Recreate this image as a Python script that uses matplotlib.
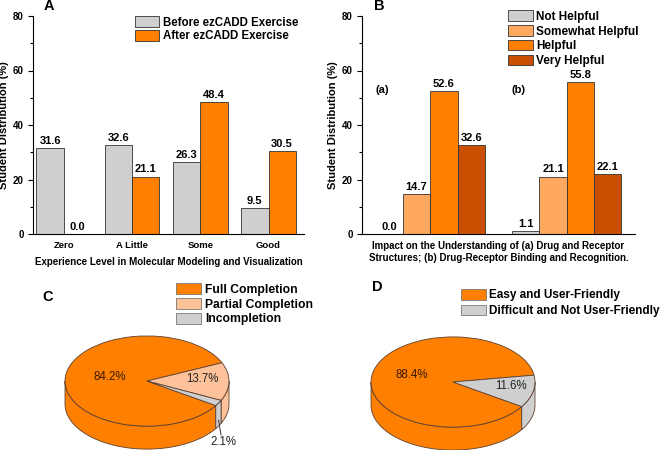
import matplotlib
matplotlib.use("Agg")
import matplotlib.pyplot as plt
import numpy as np
from matplotlib.patches import Patch, Polygon
from matplotlib.transforms import Affine2D

plt.rcParams['font.family'] = ['Liberation Sans', 'DejaVu Sans']

# ---- data ----
exp_levels = ["Zero", "A Little", "Some", "Good"]
before_ez = [31.6, 32.6, 26.3, 9.5]
after_ez = [0.0, 21.1, 48.4, 30.5]

help_groups = ["(a)", "(b)"]
help_labels = ["Not Helpful", "Somewhat Helpful", "Helpful", "Very Helpful"]
not_helpful = [0.0, 1.1]
somewhat_helpful = [14.7, 21.1]
helpful = [52.6, 55.8]
very_helpful = [32.6, 22.1]

completion_labels = ["Full Completion", "Partial Completion", "Incompletion"]
completion_vals = [84.2, 13.7, 2.1]

ease_labels = ["Easy and User-Friendly", "Difficult and Not User-Friendly"]
ease_vals = [88.4, 11.6]

GRAY = '#cfcfcf'
ORANGE = '#ff8000'
LIGHT = '#ffa860'
DARK = '#c85000'
PEACH = '#fdc29a'
EDGE = '#333333'
PIE_EDGE = '#5c4030'

W, H = 662, 450
fig = plt.figure(figsize=(6.62, 4.5), dpi=100)


def px_rect(x0, y0, x1, y1):
    return [x0 / W, 1 - y1 / H, (x1 - x0) / W, (y1 - y0) / H]


def style_bar_axes(ax):
    for s in ['top', 'right']:
        ax.spines[s].set_visible(False)
    for s in ['left', 'bottom']:
        ax.spines[s].set_linewidth(0.8)
    ax.set_ylim(0, 80)
    ax.set_yticks([0, 20, 40, 60, 80])
    ax.set_yticks([10, 30, 50, 70], minor=True)
    ax.tick_params(axis='y', which='major', length=3.6, width=0.8, pad=3,
                   labelsize=7)
    ax.tick_params(axis='y', which='minor', length=2, width=0.8)
    for t in ax.get_yticklabels():
        t.set_fontweight('bold')
    ax.set_ylabel("Student Distribution (%)", fontsize=8, fontweight='bold',
                  labelpad=3)


def bar_labels(ax, rects):
    for r in rects:
        h = r.get_height()
        ax.annotate(f"{h:.1f}", xy=(r.get_x() + r.get_width() / 2, h),
                    xytext=(0, 1.5), textcoords='offset points',
                    ha='center', va='bottom', fontsize=8, fontweight='bold')


# ---- panel A ----
axA = fig.add_axes(px_rect(33, 16, 304, 234))
x = np.arange(len(exp_levels))
w = 0.4
rb = axA.bar(x - w / 2, before_ez, w, color=GRAY, edgecolor=EDGE, linewidth=0.6,
             label="Before ezCADD Exercise")
ra = axA.bar(x + w / 2, after_ez, w, color=ORANGE, edgecolor=EDGE, linewidth=0.6,
             label="After ezCADD Exercise")
bar_labels(axA, rb)
bar_labels(axA, ra)
axA.set_xlim(-0.45, 3.52)
axA.set_xticks(x)
axA.set_xticklabels(exp_levels, fontsize=6.8, fontweight='bold')
axA.tick_params(axis='x', length=0, pad=5)
style_bar_axes(axA)
axA.set_xlabel("Experience Level in Molecular Modeling and Visualization",
               fontsize=7, fontweight='bold', labelpad=5)
axA.legend(loc='upper left', bbox_to_anchor=(135 / W, 1 - 16.5 / H),
           bbox_transform=fig.transFigure, frameon=False, borderpad=0,
           borderaxespad=0, handlelength=2.1, handleheight=1.05,
           handletextpad=0.3, labelspacing=0.1,
           prop={'size': 8.3, 'weight': 'bold'})

# ---- panel B ----
axB = fig.add_axes(px_rect(362, 16, 635, 234))
xg = np.arange(len(help_groups))
wb = 0.2
series_b = [not_helpful, somewhat_helpful, helpful, very_helpful]
colors_b = [GRAY, LIGHT, ORANGE, DARK]
for i, (vals, col, lab) in enumerate(zip(series_b, colors_b, help_labels)):
    rr = axB.bar(xg + (i - 1.5) * wb, vals, wb, color=col, edgecolor=EDGE,
                 linewidth=0.6, label=lab)
    bar_labels(axB, rr)
axB.set_xlim(-0.5, 1.5)
axB.set_xticks([])
style_bar_axes(axB)
for gx, gname in zip(xg, help_groups):
    axB.text(gx - 0.35, 52.8, gname, fontsize=8, fontweight='bold',
             ha='center', va='center')
axB.set_xlabel("Impact on the Understanding of (a) Drug and Receptor\n"
               "Structures; (b) Drug-Receptor Binding and Recognition.",
               fontsize=7, fontweight='bold', labelpad=5, linespacing=1.25)
axB.legend(loc='upper left', bbox_to_anchor=(508 / W, 1 - 10.5 / H),
           bbox_transform=fig.transFigure, frameon=False, borderpad=0,
           borderaxespad=0, handlelength=2.1, handleheight=1.0,
           handletextpad=0.3, labelspacing=0.2,
           prop={'size': 8.5, 'weight': 'bold'})


# ---- pies ----
def pie3d(ax, vals, colors, start, label_r, small_leader=None):
    rx_ry = 0.55
    depth = 0.28
    fr = np.array(vals) / np.sum(vals)
    bounds = start - 360 * np.concatenate([[0], np.cumsum(fr)])
    # side walls of the front half
    for i in range(len(vals)):
        a_hi, a_lo = bounds[i], bounds[i + 1]
        for k in range(-2, 2):
            lo = max(a_lo, -180 + 360 * k)
            hi = min(a_hi, 360 * k)
            if hi > lo:
                t = np.radians(np.linspace(lo, hi, 60))
                top = np.column_stack([np.cos(t), rx_ry * np.sin(t)])
                bot = top[::-1] - [0, depth]
                ax.add_patch(Polygon(np.vstack([top, bot]), closed=True,
                                     facecolor=colors[i], edgecolor=PIE_EDGE,
                                     linewidth=0.6, zorder=1))
    wedges, _ = ax.pie(vals, colors=colors, startangle=start, counterclock=False,
                       radius=1, center=(0, 0),
                       wedgeprops=dict(edgecolor=PIE_EDGE, linewidth=0.6))
    for wd in wedges:
        wd.set_transform(Affine2D().scale(1, rx_ry) + ax.transData)
        wd.set_zorder(2)
    for i, v in enumerate(vals):
        mid = np.radians((bounds[i] + bounds[i + 1]) / 2)
        if small_leader is not None and i == small_leader:
            sx, sy = np.cos(mid), rx_ry * np.sin(mid) - depth * 0.75
            ax.plot([sx, sx + 0.03], [sy, -0.66], color='#333333', lw=0.7,
                    zorder=3)
            ax.text(sx + 0.06, -0.74, f"{v:.1f}%", fontsize=8.3,
                    ha='center', va='center', color='#222222', zorder=3)
        else:
            r = label_r[i]
            ax.text(r * np.cos(mid), r * rx_ry * np.sin(mid) + 0.03,
                    f"{v:.1f}%", fontsize=8.3, ha='center', va='center',
                    color='#3a1a00' if colors[i] == ORANGE else '#222222',
                    zorder=3)


axC = fig.add_axes([0, 0, 331 / W, 200 / H])
pie3d(axC, completion_vals, [ORANGE, PEACH, GRAY], -33, [0.45, 0.68, 0],
      small_leader=2)
axC.set_xlim(-1.793, 2.244)
axC.set_ylim(-0.841, 1.598)
axC.set_aspect('auto')
axC.axis('off')
axC.legend(handles=[Patch(facecolor=c, edgecolor='#777777', linewidth=0.6)
                    for c in [ORANGE, PEACH, GRAY]],
           labels=completion_labels, loc='upper left',
           bbox_to_anchor=(176 / W, 1 - 283 / H), bbox_transform=fig.transFigure,
           frameon=False, borderpad=0, borderaxespad=0, handlelength=2.1,
           handleheight=1.0, handletextpad=0.3, labelspacing=0.2,
           prop={'size': 8.7, 'weight': 'bold'})

axD = fig.add_axes([331 / W, 0, 331 / W, 200 / H])
pie3d(axD, ease_vals, [ORANGE, GRAY], -33, [0.51, 0.72])
axD.set_xlim(-1.488, 2.549)
axD.set_ylim(-0.829, 1.61)
axD.set_aspect('auto')
axD.axis('off')
axD.legend(handles=[Patch(facecolor=c, edgecolor='#777777', linewidth=0.6)
                    for c in [ORANGE, GRAY]],
           labels=ease_labels, loc='upper left',
           bbox_to_anchor=(461 / W, 1 - 289 / H), bbox_transform=fig.transFigure,
           frameon=False, borderpad=0, borderaxespad=0, handlelength=2.1,
           handleheight=1.0, handletextpad=0.25, labelspacing=0.3,
           prop={'size': 8.5, 'weight': 'bold'})

# panel letters
for letter, (lx, ly) in zip("ABCD", [(49, 6), (379, 6), (48, 297), (377, 287)]):
    fig.text(lx / W, 1 - ly / H, letter, fontsize=10.5, fontweight='bold',
             ha='center', va='center')

fig.savefig("out.png", dpi=100)
